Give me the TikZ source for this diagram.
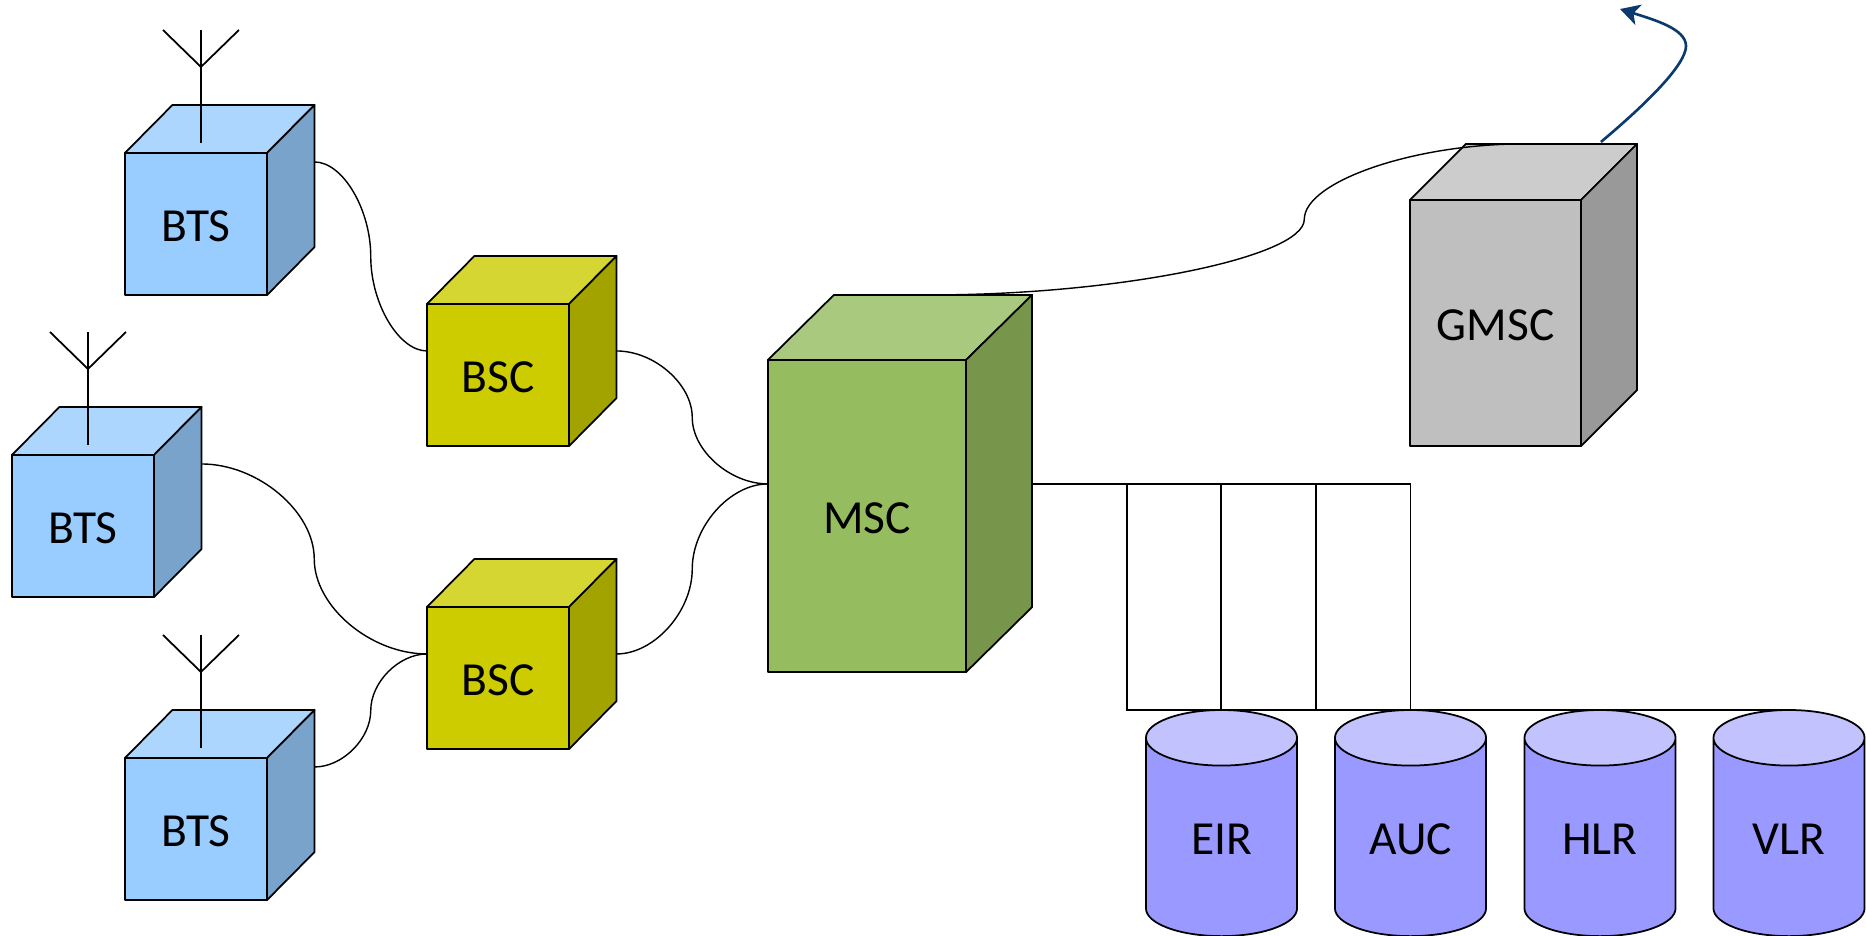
\documentclass[tikz,border=0pt]{standalone}
\usepackage{fontspec}
\setmainfont{Carlito}
\usetikzlibrary{calc,arrows.meta,shapes.geometric}

\definecolor{btsfront}{HTML}{99CCFF}
\definecolor{btstop}{HTML}{ADD6FF}
\definecolor{btsside}{HTML}{7AA3CC}
\definecolor{bscfront}{HTML}{CCCC00}
\definecolor{bsctop}{HTML}{D6D633}
\definecolor{bscside}{HTML}{A3A300}
\definecolor{mscfront}{HTML}{95BC5E}
\definecolor{msctop}{HTML}{A9C97E}
\definecolor{mscside}{HTML}{77964B}
\definecolor{gmscfront}{HTML}{BFBFBF}
\definecolor{gmsctop}{HTML}{CCCCCC}
\definecolor{gmscside}{HTML}{999999}
\definecolor{cylbody}{HTML}{9999FF}
\definecolor{cylend}{HTML}{C2C2FF}
\definecolor{uplinkblue}{HTML}{0B3A6E}

\tikzset{
    cubeline/.style={draw=black, line width=0.5pt, line join=round},
    cubeface/.style={cubeline, inner sep=0pt, outer sep=0pt, text height=9.7pt, text depth=0pt,
        font=\fontsize{13.5}{15}\selectfont},
    btsface/.style={cubeface, fill=btsfront, minimum width=1.42cm, minimum height=1.42cm},
    bscface/.style={cubeface, fill=bscfront, minimum width=1.42cm, minimum height=1.42cm},
    mscface/.style={cubeface, fill=mscfront, minimum width=1.98cm, minimum height=3.12cm},
    gmscface/.style={cubeface, fill=gmscfront, minimum width=1.71cm, minimum height=2.46cm},
    database/.style={cylinder, shape border rotate=90, aspect=0.505, cubeline, anchor=north,
        cylinder uses custom fill, cylinder body fill=cylbody, cylinder end fill=cylend,
        inner sep=0pt, outer sep=0pt, minimum width=1.51cm, minimum height=2.26cm,
        text width=1.1cm, align=center, text height=9.8pt, text depth=0pt,
        font=\fontsize{13.5}{15}\selectfont},
    wire/.style={line width=0.4pt, to path={
        let \p1=(\tikztostart), \p2=(\tikztotarget) in
        .. controls ({\x1+0.5*#1*(\x2-\x1)},\y1)
            and ({\x1+#1*(\x2-\x1)},{0.75*\y1+0.25*\y2})
        .. ({\x1+#1*(\x2-\x1)},{0.5*\y1+0.5*\y2})
        .. controls ({\x1+#1*(\x2-\x1)},{0.25*\y1+0.75*\y2})
            and ({0.5*(\x1+#1*(\x2-\x1))+0.5*\x2},\y2)
        .. (\tikztotarget)}},
    wire/.default=0.5,
    bus/.style={line width=0.5pt},
    uplink/.style={uplinkblue, line width=0.75pt, -{Stealth[length=5.5pt, width=6pt, inset=1.5pt]}}
}

\begin{document}
\begin{tikzpicture}[x=0.01cm, y=0.01cm]
    \useasboundingbox (0,0) rectangle (1866,935);

    % Front faces
    \node[btsface] (bts1) at (196,711) {BTS};
    \node[btsface] (bts2) at (83,409) {BTS};
    \node[btsface] (bts3) at (196,106) {BTS};
    \node[bscface] (bsc1) at (498,560) {BSC};
    \node[bscface] (bsc2) at (498,257) {BSC};
    \node[mscface] (msc) at (867,419) {MSC};
    \node[gmscface] (gmsc) at (1495.5,612) {GMSC};

    % Top and side faces
    \foreach \nm/\dx/\dy/\topc/\sidec in {bts1/47.5/48/btstop/btsside, bts2/47.5/48/btstop/btsside,
        bts3/47.5/48/btstop/btsside, bsc1/47.5/48/bsctop/bscside, bsc2/47.5/48/bsctop/bscside,
        msc/66/65/msctop/mscside, gmsc/56/56/gmsctop/gmscside} {
        \draw[cubeline, fill=\topc] (\nm.north west) -- ++(\dx,\dy)
            -- ($(\nm.north east)+(\dx,\dy)$) -- (\nm.north east) -- cycle;
        \draw[cubeline, fill=\sidec] (\nm.north east) -- ++(\dx,\dy)
            -- ($(\nm.south east)+(\dx,\dy)$) -- (\nm.south east) -- cycle;
    }

    % Antennas
    \foreach \nm in {bts1, bts2, bts3} {
        \coordinate (\nm-base) at ($(\nm.north west)+(76,10)$);
        \draw[bus] (\nm-base) -- ++(0,113);
        \draw[bus] ($(\nm-base)+(-38,113)$) -- ($(\nm-base)+(0,76)$) -- ($(\nm-base)+(38,113)$);
    }

    % Databases
    \node[database] (eir) at (1221.5,225) {EIR};
    \node[database] (auc) at (1410.5,225) {AUC};
    \node[database] (hlr) at (1600,225) {HLR};
    \node[database] (vlr) at (1789,225) {VLR};

    % Connection points
    \foreach \nm in {bts1, bts2, bts3}
        \coordinate (\nm-out) at ($(\nm.north east)+(47.5,-9)$);
    \foreach \nm in {bsc1, bsc2} {
        \coordinate (\nm-in) at ($(\nm.north west)+(0,-47)$);
        \coordinate (\nm-out) at ($(\nm.north east)+(47.5,-47)$);
    }
    \coordinate (msc-in) at ($(msc.north west)+(0,-124)$);
    \coordinate (msc-out) at ($(msc.north east)+(66,-124)$);
    \coordinate (msc-up) at ($(msc.north west)+(164,65)$);
    \coordinate (gmsc-in) at ($(gmsc.north west)+(113,56)$);
    \coordinate (gmsc-up) at ($(gmsc.north west)+(191,58)$);
    \coordinate (sky) at (1620,926);

    % Curved links
    \draw (bts1-out) to[wire] (bsc1-in);
    \draw (bts2-out) to[wire] (bsc2-in);
    \draw (bts3-out) to[wire] (bsc2-in);
    \draw (bsc1-out) to[wire] (msc-in);
    \draw (bsc2-out) to[wire] (msc-in);
    \draw (msc-up) to[wire=0.63] (gmsc-in);

    % Links to the databases
    \foreach \nm in {eir, auc, hlr, vlr}
        \draw[bus] (msc-out) -| ($(msc-out)!0.5!(\nm.north)$) |- (\nm.north);

    % Outgoing arrow
    \draw[uplink] (gmsc-up) .. controls (1645,830) and (1686,870) .. (1686,889)
        .. controls (1686,906) and (1655,915) .. (sky);
\end{tikzpicture}
\end{document}
